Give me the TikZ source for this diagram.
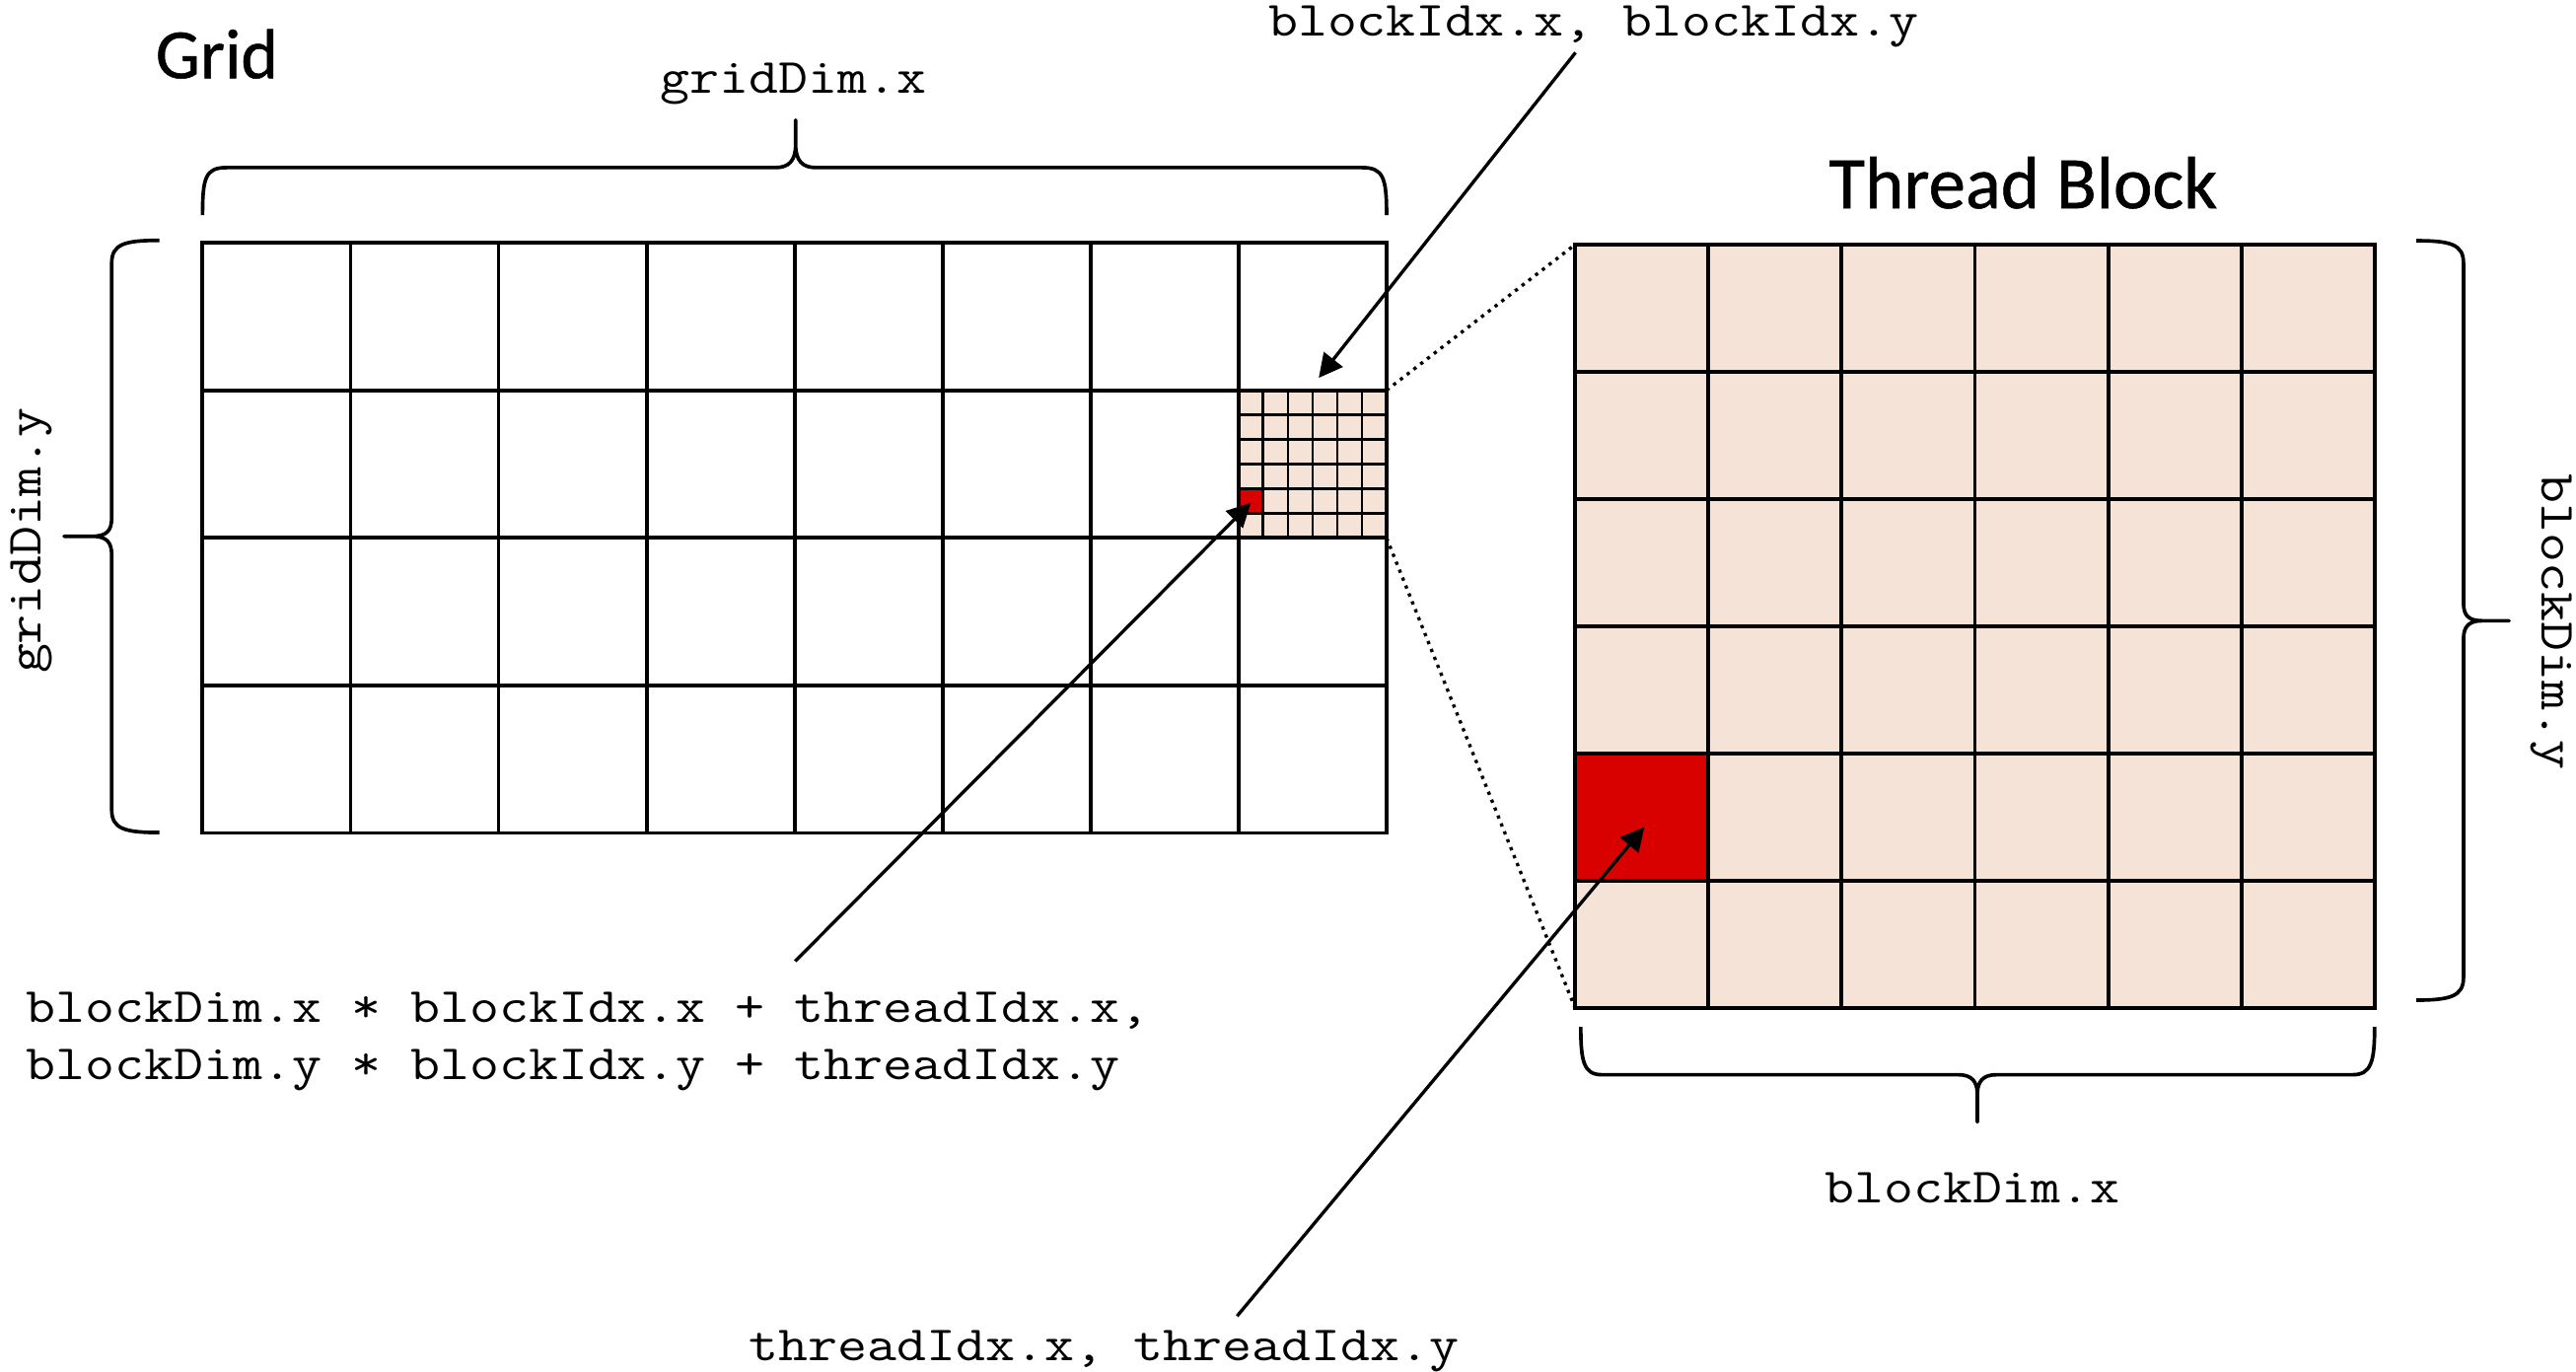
\documentclass[tikz,border=0pt]{standalone}
\usepackage{fontspec}
\setmonofont{Latin Modern Mono}[FakeStretch=1.165]
\newfontfamily\titlefont{Carlito}[FakeBold=0.7]
\usetikzlibrary{arrows.meta}
\definecolor{beige}{HTML}{F4E3D6}
\definecolor{cellred}{HTML}{D90000}
\begin{document}
\begin{tikzpicture}[x=0.5pt,y=-0.5pt,
  gridline/.style={line width=1.15pt, line cap=rect},
  subline/.style={line width=0.85pt, line cap=rect},
  dotline/.style={line width=1pt, dash pattern=on 1pt off 1.6pt},
  bracepath/.style={line width=1.1pt, line join=round},
  arr/.style={line width=1pt, -{Triangle[length=7.2pt,width=7.2pt]}},
  mono/.style={font=\ttfamily\fontsize{15}{17.4}\selectfont, inner sep=0pt},
  titletext/.style={font=\titlefont\fontsize{22.5}{27}\selectfont, inner sep=0pt}]
\useasboundingbox (0,0) rectangle (1568,835);

% named corners
\coordinate (gridNW) at (123.3,147.7);
\coordinate (gridSE) at (844,507);
\coordinate (subNW) at (753.9,237.5);
\coordinate (subNE) at (844,237.5);
\coordinate (subSE) at (844,327.4);
\coordinate (tbNW) at (958.7,148.9);
\coordinate (tbSW) at (958.7,613.4);
\coordinate (tbSE) at (1445.5,613.4);

% fills
\fill[beige] (subNW) rectangle (subSE);
\fill[beige] (tbNW) rectangle (tbSE);
\fill[cellred] (753.9,297.4) rectangle (768.9,312.4);
\fill[cellred] (958.7,458.6) rectangle (1039.8,536.0);

% sub-block grid
\foreach \i in {1,...,5} \draw[subline] ({753.9+\i*15.02},237.5) -- ({753.9+\i*15.02},327.4);
\foreach \j in {1,...,5} \draw[subline] (753.9,{237.5+\j*14.98}) -- (844,{237.5+\j*14.98});

% main grid
\foreach \i in {0,...,8} \draw[gridline] ({123.3+\i*90.0875},147.7) -- ({123.3+\i*90.0875},507);
\foreach \j in {0,...,4} \draw[gridline] (123.3,{147.7+\j*89.825}) -- (844,{147.7+\j*89.825});

% thread block grid
\foreach \i in {0,...,6} \draw[gridline] ({958.7+\i*81.133},148.9) -- ({958.7+\i*81.133},613.4);
\foreach \j in {0,...,6} \draw[gridline] (958.7,{148.9+\j*77.417}) -- (1445.5,{148.9+\j*77.417});

% dotted zoom lines
\draw[dotline] (subNE) -- (tbNW);
\draw[dotline] (subSE) -- (tbSW);

% braces
\draw[bracepath] (123.3,130.9) .. controls (123.3,108) and (125,102) .. (138,102) -- (472,102) .. controls (480,102) and (484.3,98) .. (484.3,88) -- (484.3,73) -- (484.3,88) .. controls (484.3,98) and (488.6,102) .. (496.6,102) -- (829,102) .. controls (842,102) and (844,108) .. (844,130.9);
\draw[bracepath] (97,146.3) .. controls (76,146.3) and (68,148.5) .. (68,160) -- (68,315) .. controls (68,323) and (65,326.4) .. (56,326.4) -- (39,326.4) -- (56,326.4) .. controls (65,326.4) and (68,330) .. (68,338) -- (68,493) .. controls (68,504.5) and (76,506.7) .. (97,506.7);
\draw[bracepath] (1470.8,146.5) .. controls (1491,146.5) and (1499.5,148.5) .. (1499.5,160) -- (1499.5,367) .. controls (1499.5,375) and (1503,377.8) .. (1511,377.8) -- (1527.2,377.8) -- (1511,377.8) .. controls (1503,377.8) and (1499.5,381) .. (1499.5,389) -- (1499.5,595) .. controls (1499.5,606.5) and (1491,608.7) .. (1470.8,608.7);
\draw[bracepath] (962.2,625) .. controls (962.2,646) and (964,654.1) .. (975,654.1) -- (1192,654.1) .. controls (1200,654.1) and (1203.6,658) .. (1203.6,666) -- (1203.6,682.8) -- (1203.6,666) .. controls (1203.6,658) and (1207.2,654.1) .. (1215.2,654.1) -- (1432,654.1) .. controls (1443.4,654.1) and (1445.4,646) .. (1445.4,625);

% labels
\node[titletext, anchor=base] (gridlbl) at (132,47.6) {\fontsize{21.5}{26}\selectfont Grid};
\node[titletext, anchor=base] (tblbl) at (1231.5,126.7) {Thread Block};
\node[mono, anchor=base] (gdx) at (483,56.9) {gridDim.x};
\node[mono, anchor=base] (bidx) at (970,22) {blockIdx.x, blockIdx.y};
\node[mono, anchor=base] (bdx) at (1200.6,731.8) {blockDim.x};
\node[mono, anchor=base, rotate=90] (gdy) at (25,329) {gridDim.y};
\node[mono, anchor=base, rotate=-90] (bdy) at (1547,378.6) {blockDim.y};
\node[mono, anchor=base west] (f1) at (15.4,622.5) {blockDim.x * blockIdx.x + threadIdx.x,};
\node[mono, anchor=base west] (f2) at (15.4,657.3) {blockDim.y * blockIdx.y + threadIdx.y};
\node[mono, anchor=base] (tidx) at (672,828.4) {threadIdx.x, threadIdx.y};

% arrows
\coordinate (bidxs) at (959,32);
\coordinate (bidxtip) at (802.7,230);
\coordinate (fstart) at (484,585);
\coordinate (redsmall) at (761.4,306);
\coordinate (tstart) at (753,801);
\coordinate (tidxtip) at (1000.9,503.3);
\draw[arr] (bidxs) -- (bidxtip);
\draw[arr] (fstart) -- (redsmall);
\draw[arr] (tstart) -- (tidxtip);
\end{tikzpicture}
\end{document}
